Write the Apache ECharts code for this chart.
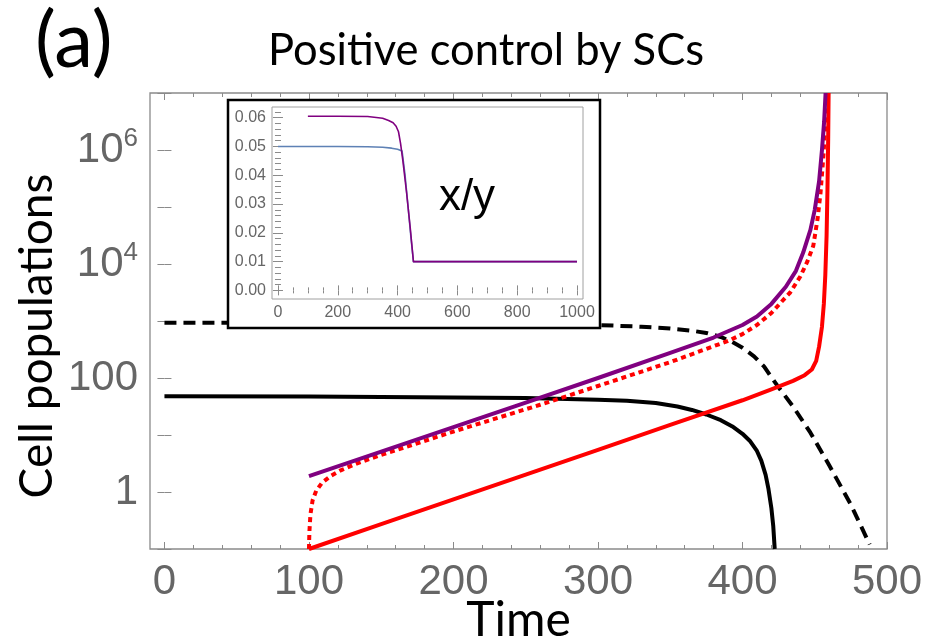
<!DOCTYPE html>
<html>
<head>
<meta charset="utf-8">
<script src="https://cdn.jsdelivr.net/npm/echarts@6/dist/echarts.min.js"></script>
<style>html,body{margin:0;padding:0;background:#fff;}#chart{width:925px;height:642px;}</style>
</head>
<body>
<div id="chart"></div>
<script>
// ---- Main panel data (Time vs cell populations, log scale) ----
var blackSolidT = [0, 100, 200, 250, 300, 320, 340, 355, 365, 375, 385, 393, 400, 405, 410, 413, 416, 418, 420, 421.3, 422.3];
var blackSolidV = [47.9, 47.3, 45.7, 44.7, 41.7, 39.8, 36.3, 31.6, 27.5, 22.9, 18.2, 14.1, 10.5, 7.94, 5.25, 3.55, 2.0, 1.12, 0.52, 0.25, 0.1];

var blackDashedT = [0, 100, 200, 300, 330, 350, 365, 375, 385, 393, 400, 408, 415, 424, 435, 447, 460, 475, 488];
var blackDashedV = [933, 923, 902, 851, 794, 741, 676, 617, 525, 427, 339, 240, 158, 74, 31.6, 11, 2.95, 0.6, 0.12];

var purpleT = [100, 150, 200, 250, 300, 350, 380, 390, 400, 410, 420, 430, 437, 442, 447, 450, 453, 455, 456.5, 457.5];
var purpleV = [1.9, 5.1, 13.8, 37, 100, 275, 513, 661, 851, 1202, 1995, 3981, 7586, 15849, 39800, 89125, 281838, 1000000, 3162278, 10000000];

var redDottedT = [100, 100.3, 101, 102.5, 105, 109, 115, 122, 133, 150, 200, 260, 300, 350, 390, 400, 410, 420, 430, 433, 440, 445, 449, 452, 454, 456, 457.5, 458.5];
var redDottedV = [0.1, 0.2, 0.4, 0.71, 1.05, 1.45, 1.91, 2.4, 3.16, 4.47, 11.5, 33.9, 72.4, 190, 447, 589, 851, 1380, 2630, 3162, 6026, 11220, 20893, 63096, 177828, 794328, 3162278, 10000000];

var redSolidT = [100, 150, 200, 250, 300, 350, 400, 420, 435, 443, 448, 451, 453, 455, 456.3, 457.3, 458.2, 458.8, 459.3, 459.6];
var redSolidV = [0.1, 0.272, 0.741, 2.02, 5.5, 15, 40.7, 63.1, 89.1, 112, 141, 200, 355, 794, 1995, 6310, 31623, 199526, 1584893, 10000000];

// ---- Inset data (x/y ratio) ----
var insetBlueT = [0, 200, 300, 350, 380, 400, 415, 425, 435, 445, 453, 600, 800, 1000];
var insetBlueV = [0.05, 0.05, 0.0499, 0.0497, 0.0494, 0.049, 0.0484, 0.04, 0.029, 0.018, 0.01, 0.01, 0.01, 0.01];
var insetPurpleT = [100, 200, 300, 350, 370, 385, 395, 403, 410, 418, 430, 442, 453, 600, 800, 1000];
var insetPurpleV = [0.0605, 0.0605, 0.0604, 0.0598, 0.059, 0.0582, 0.057, 0.0551, 0.051, 0.0447, 0.034, 0.022, 0.01, 0.01, 0.01, 0.01];

// ---- Tick values ----
var mainXMajor = [0, 100, 200, 300, 400, 500];
var mainXMinor = [20, 40, 60, 80, 120, 140, 160, 180, 220, 240, 260, 280, 320, 340, 360, 380, 420, 440, 460, 480];
var insetXMajor = [0, 200, 400, 600, 800, 1000];
var insetXMinor = [50, 100, 150, 250, 300, 350, 450, 500, 550, 650, 700, 750, 850, 900, 950];
var insetYMajor = [0, 0.01, 0.02, 0.03, 0.04, 0.05, 0.06];
var insetYMinor = [0.002, 0.004, 0.006, 0.008, 0.012, 0.014, 0.016, 0.018, 0.022, 0.024, 0.026, 0.028, 0.032, 0.034, 0.036, 0.038, 0.042, 0.044, 0.046, 0.048, 0.052, 0.054, 0.056, 0.058, 0.062];

function zip(a, b) { return a.map(function (v, i) { return [v, b[i]]; }); }

var frameColor = '#8a8a8a';
var labelColor = '#666666';
var titleFont = 'Lato, "Open Sans", sans-serif';
var tickFont = '"Liberation Sans", Arial, sans-serif';

function tickAxis(base, vals, len, showLabel) {
  var o = Object.assign({}, base);
  o.axisLine = { show: false };
  o.splitLine = { show: false };
  o.axisTick = { show: true, inside: true, length: len, customValues: vals, lineStyle: { color: frameColor, width: 1 } };
  o.axisLabel = showLabel ? showLabel : { show: false };
  return o;
}

var mainX = { type: 'value', gridIndex: 0, min: -10, max: 500 };
var insetX = { type: 'value', gridIndex: 1, min: -20, max: 1020, z: 4 };
var insetY = { type: 'value', gridIndex: 1, min: -0.003, max: 0.0637, z: 4 };

var xAxes = [
  Object.assign(tickAxis(Object.assign({ position: 'bottom' }, mainX), mainXMajor, 7,
    { show: true, customValues: mainXMajor, color: labelColor, fontSize: 42, fontFamily: tickFont, margin: 12,
      formatter: function (v) { return String(v); } }),
    { name: 'Time', nameLocation: 'middle', nameGap: 48, nameMoveOverlap: false,
      nameTextStyle: { fontSize: 48, fontFamily: titleFont, color: '#000', verticalAlign: 'top' } }),
  tickAxis(Object.assign({ position: 'bottom' }, mainX), mainXMinor, 4),
  tickAxis(Object.assign({ position: 'top' }, mainX), mainXMajor, 7),
  tickAxis(Object.assign({ position: 'top' }, mainX), mainXMinor, 4),
  tickAxis(Object.assign({ position: 'bottom' }, insetX), insetXMajor, 5,
    { show: true, customValues: insetXMajor, color: labelColor, fontSize: 16, fontFamily: tickFont, margin: 6,
      formatter: function (v) { return String(v); } }),
  tickAxis(Object.assign({ position: 'bottom' }, insetX), insetXMinor, 3),
  tickAxis(Object.assign({ position: 'top' }, insetX), insetXMajor, 5),
  tickAxis(Object.assign({ position: 'top' }, insetX), insetXMinor, 3)
];

var mainYLabel = {
  show: true, color: labelColor, fontSize: 42, fontFamily: tickFont, margin: 12,
  formatter: function (v) {
    var e = Math.round(Math.log10(v));
    if (e === 0) return '1';
    if (e === 2) return '100';
    if (e === 4) return '10{s|4}';
    if (e === 6) return '10{s|6}';
    return '';
  },
  rich: { s: { fontSize: 26, fontFamily: tickFont, color: labelColor, verticalAlign: 'top', padding: [0, 0, 22, 0] } }
};

var yAxes = [
  { type: 'log', logBase: 10, gridIndex: 0, position: 'left', min: 0.1, max: 10000000, interval: 1,
    axisLine: { show: false }, splitLine: { show: false },
    axisTick: { show: true, inside: true, length: 7, lineStyle: { color: frameColor } },
    axisLabel: mainYLabel },
  { type: 'log', logBase: 10, gridIndex: 0, position: 'right', min: 0.1, max: 10000000, interval: 1,
    axisLine: { show: false }, splitLine: { show: false },
    axisTick: { show: true, inside: true, length: 7, lineStyle: { color: frameColor } },
    axisLabel: { show: false } },
  tickAxis(Object.assign({ position: 'left' }, insetY), insetYMajor, 5,
    { show: true, customValues: insetYMajor, color: labelColor, fontSize: 16, fontFamily: tickFont, margin: 6,
      formatter: function (v) { return v.toFixed(2); } }),
  tickAxis(Object.assign({ position: 'left' }, insetY), insetYMinor, 3),
  tickAxis(Object.assign({ position: 'right' }, insetY), insetYMajor, 5),
  tickAxis(Object.assign({ position: 'right' }, insetY), insetYMinor, 3)
];

function mainLine(name, t, v, color, type) {
  return {
    name: name, type: 'line', xAxisIndex: 0, yAxisIndex: 0, data: zip(t, v),
    showSymbol: false, symbol: 'none', smooth: false, z: 2,
    lineStyle: { color: color, width: 4, type: type || 'solid', cap: 'butt', join: 'round' }
  };
}
function insetLine(name, t, v, color) {
  return {
    name: name, type: 'line', xAxisIndex: 4, yAxisIndex: 2, data: zip(t, v),
    showSymbol: false, symbol: 'none', smooth: false, z: 5,
    lineStyle: { color: color, width: 1.6, join: 'round' }
  };
}

var option = {
  animation: false,
  backgroundColor: '#ffffff',
  title: [
    { text: '(a)', left: 30, top: -2, textStyle: { fontSize: 78, fontWeight: 'normal', fontFamily: titleFont, color: '#000' } },
    { text: 'Positive control by SCs', left: 263, top: 24, textStyle: { fontSize: 43.5, fontWeight: 'normal', fontFamily: titleFont, color: '#000' } }
  ],
  grid: [
    { left: 150, right: 38, top: 93, bottom: 93, outerBoundsMode: 'none', containLabel: false,
      show: true, borderColor: frameColor, borderWidth: 1.3, backgroundColor: 'transparent' },
    { left: 272, top: 107, width: 311, height: 192, outerBoundsMode: 'none', containLabel: false,
      show: true, borderColor: '#a0a0a0', borderWidth: 1, backgroundColor: 'transparent', z: 4 }
  ],
  xAxis: xAxes,
  yAxis: yAxes,
  graphic: [
    { type: 'rect', shape: { x: 228, y: 100, width: 372, height: 228 }, z: 3,
      style: { fill: '#ffffff', stroke: '#000000', lineWidth: 2.5 } },
    { type: 'text', x: 467, y: 198, z: 6,
      style: { text: 'x/y', fontSize: 44, fontFamily: tickFont, fill: '#000', textAlign: 'center', textVerticalAlign: 'middle' } },
    { type: 'text', x: 37, y: 336, rotation: Math.PI / 2, z: 6,
      style: { text: 'Cell populations', fontSize: 46, fontFamily: titleFont, fill: '#000', textAlign: 'center', textVerticalAlign: 'middle' } }
  ],
  series: [
    mainLine('Black solid', blackSolidT, blackSolidV, '#000000'),
    mainLine('Black dashed', blackDashedT, blackDashedV, '#000000', [12, 7]),
    mainLine('Red solid', redSolidT, redSolidV, '#ff0000'),
    mainLine('Red dotted', redDottedT, redDottedV, '#ff0000', [5, 4]),
    mainLine('Purple', purpleT, purpleV, '#800080'),
    insetLine('Inset blue', insetBlueT, insetBlueV, '#5e81b5'),
    insetLine('Inset purple', insetPurpleT, insetPurpleV, '#800080')
  ]
};

var chart = echarts.init(document.getElementById('chart'), null, { renderer: 'canvas' });
chart.setOption(option);
</script>
</body>
</html>
